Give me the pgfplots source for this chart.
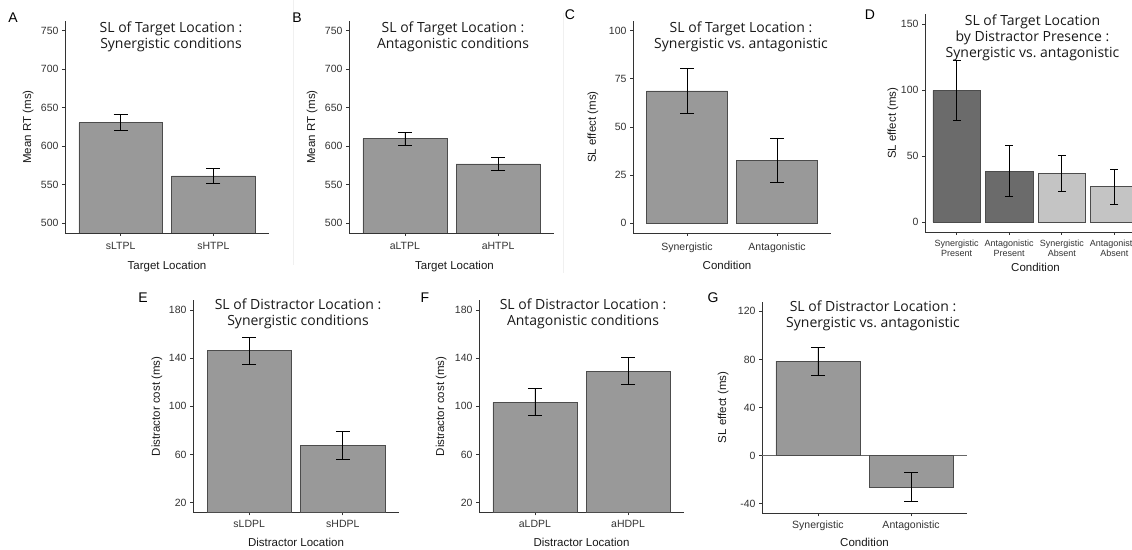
\documentclass[border=0pt]{standalone}
\usepackage{pgfplots}
\pgfplotsset{compat=1.18}
\usepackage{fontspec}
\setmainfont{Liberation Sans}
\newfontfamily\titlefont{Open Sans}
\definecolor{barg}{HTML}{999999}
\definecolor{bardark}{HTML}{6B6B6B}
\definecolor{barlight}{HTML}{C4C4C4}
\definecolor{axc}{HTML}{333333}
\pgfplotsset{
  panel/.style={
    scale only axis, anchor=south west,
    axis x line*=bottom, axis y line*=left,
    axis line style={-, axc, line width=0.8pt},
    tick align=outside, major tick length=3pt,
    tick style={axc, line width=0.7pt},
    ybar, bar width=0.9, bar shift=0pt,
    xmin=0.4, xmax=2.6, xtick={1,2},
    ticklabel style={font=\fontsize{10.5}{12}\selectfont, text=black!80},
    xticklabel style={yshift=-3pt},
    /pgf/number format/assume math mode=true,
    label style={font=\fontsize{11.5}{13}\selectfont, text=black!90},
    title style={font=\titlefont\fontsize{14}{16}\selectfont, align=center,
      at={(axis description cs:0.5,1)}, anchor=north, inner sep=0pt, text=black!90},
    xlabel style={at={(axis description cs:0.5,0)}, anchor=center},
  },
  bars/.style 2 args={fill=#1, draw=black!70, line width=0.6pt,
    error bars/.cd, y dir=both, y explicit,
    error bar style={black, line width=0.8pt},
    error mark options={black, line width=0.8pt, mark size=#2, rotate=90}},
}
\begin{document}
\begin{tikzpicture}
\useasboundingbox (0pt,0pt) rectangle (1132pt,549pt);
\clip (0pt,0pt) rectangle (1132pt,549pt);
\draw[black!6, line width=0.8pt] (563pt,536pt) -- (563pt,276pt);
\draw[black!6, line width=0.8pt] (293pt,549pt) -- (293pt,284pt);

% ---------------- A
\begin{axis}[panel, at={(65pt,316pt)}, width=204pt, height=212pt,
  ymin=487.5, ymax=762.5, ytick={500,550,600,650,700,750},
  xticklabels={sLTPL,sHTPL},
  title={SL of Target Location :\\Synergistic conditions},
  title style={xshift=4pt, yshift=-7pt},
  ylabel={Mean RT (ms)}, ylabel style={at={(axis description cs:-0.181,0.5)}, anchor=center},
  xlabel={Target Location}, xlabel style={yshift=-34pt}]
\addplot[bars={barg}{7pt}] coordinates {(1,630.5) +- (0,10.2) (2,561.5) +- (0,10.3)};
\end{axis}
\node[font=\fontsize{14}{16}\selectfont, anchor=center] at (13pt,531pt) {A};

% ---------------- B
\begin{axis}[panel, at={(349pt,316pt)}, width=205pt, height=212pt,
  ymin=487.5, ymax=762.5, ytick={500,550,600,650,700,750},
  xticklabels={aLTPL,aHTPL},
  title={SL of Target Location :\\Antagonistic conditions},
  title style={xshift=1.5pt, yshift=-7pt},
  ylabel={Mean RT (ms)}, ylabel style={at={(axis description cs:-0.180,0.5)}, anchor=center},
  xlabel={Target Location}, xlabel style={yshift=-34pt, xshift=3pt}]
\addplot[bars={barg}{7pt}] coordinates {(1,609.8) +- (0,8.5) (2,577.2) +- (0,8.4)};
\end{axis}
\node[font=\fontsize{14}{16}\selectfont, anchor=center] at (297pt,531pt) {B};

% ---------------- C
\begin{axis}[panel, at={(633pt,316pt)}, width=198pt, height=212pt,
  ymin=-5, ymax=105, ytick={0,25,50,75,100},
  xticklabels={Synergistic,Antagonistic},
  title={SL of Target Location :\\Synergistic vs.\ antagonistic},
  title style={xshift=9pt, yshift=-7pt},
  ylabel={SL effect (ms)}, ylabel style={at={(axis description cs:-0.202,0.5)}, anchor=center},
  xlabel={Condition}, xlabel style={yshift=-32pt, xshift=-5pt}]
\addplot[bars={barg}{7pt}] coordinates {(1,68.7) +- (0,11.5) (2,32.7) +- (0,11.6)};
\end{axis}
\node[font=\fontsize{14}{16}\selectfont, anchor=center] at (570pt,534pt) {C};

% ---------------- D
\begin{axis}[panel, at={(925pt,317pt)}, width=221pt, height=217.5pt,
  xmin=0.4, xmax=4.6, xtick={1,2,3,4},
  ymin=-7.5, ymax=157.5, ytick={0,50,100,150},
  xticklabels={Synergistic\\Present,Antagonistic\\Present,Synergistic\\Absent,Antagonistic\\Absent},
  xticklabel style={font=\fontsize{9}{10}\selectfont, align=center, yshift=2pt},
  title={SL of Target Location\\by Distractor Presence :\\Synergistic vs.\ antagonistic},
  title style={xshift=-3pt, yshift=-6.3pt},
  ylabel={SL effect (ms)}, ylabel style={at={(axis description cs:-0.145,0.5)}, anchor=center},
  xlabel={Condition}, xlabel style={yshift=-35pt}]
\addplot[bars={bardark}{4pt}]
  coordinates {(1,100.0) +- (0,22.5) (2,38.7) +- (0,19.2)};
\addplot[bars={barlight}{4pt}]
  coordinates {(3,36.9) +- (0,13.6) (4,26.8) +- (0,13.3)};
\end{axis}
\node[font=\fontsize{14}{16}\selectfont, anchor=center] at (870pt,534pt) {D};

% ---------------- E
\begin{axis}[panel, at={(193pt,36.7pt)}, width=206pt, height=212pt,
  ymin=12, ymax=188, ytick={20,60,100,140,180},
  xticklabels={sLDPL,sHDPL}, xticklabel style={yshift=2pt},
  title={SL of Distractor Location :\\Synergistic conditions},
  title style={xshift=2pt, yshift=-4.6pt},
  ylabel={Distractor cost (ms)}, ylabel style={at={(axis description cs:-0.175,0.5)}, anchor=center},
  xlabel={Distractor Location}, xlabel style={yshift=-30pt}]
\addplot[bars={barg}{7pt}] coordinates {(1,146.3) +- (0,11.2) (2,67.6) +- (0,11.4)};
\end{axis}
\node[font=\fontsize{14}{16}\selectfont, anchor=center] at (143pt,251pt) {E};

% ---------------- F
\begin{axis}[panel, at={(479pt,36.7pt)}, width=205pt, height=212pt,
  ymin=12, ymax=188, ytick={20,60,100,140,180},
  xticklabels={aLDPL,aHDPL}, xticklabel style={yshift=2pt},
  title={SL of Distractor Location :\\Antagonistic conditions},
  title style={xshift=1.5pt, yshift=-4.6pt},
  ylabel={Distractor cost (ms)}, ylabel style={at={(axis description cs:-0.185,0.5)}, anchor=center},
  xlabel={Distractor Location}, xlabel style={yshift=-30pt}]
\addplot[bars={barg}{7pt}] coordinates {(1,103.3) +- (0,11.2) (2,129.2) +- (0,11.4)};
\end{axis}
\node[font=\fontsize{14}{16}\selectfont, anchor=center] at (425pt,251pt) {F};

% ---------------- G
\begin{axis}[panel, at={(762pt,35.7pt)}, width=205pt, height=211.6pt,
  ymin=-48, ymax=128, ytick={-40,0,40,80,120},
  xticklabels={Synergistic,Antagonistic}, xticklabel style={yshift=2pt},
  title={SL of Distractor Location :\\Synergistic vs.\ antagonistic},
  title style={xshift=8.5pt, yshift=-4.6pt},
  ylabel={SL effect (ms)}, ylabel style={at={(axis description cs:-0.190,0.5)}, anchor=center},
  xlabel={Condition}, xlabel style={yshift=-29pt}]
\addplot[black!60, line width=0.6pt, no marks, forget plot, sharp plot] coordinates {(0.4,0) (2.6,0)};
\addplot[bars={barg}{7pt}] coordinates {(1,78.5) +- (0,11.5) (2,-26.2) +- (0,12.1)};
\end{axis}
\node[font=\fontsize{14}{16}\selectfont, anchor=center] at (713pt,251pt) {G};
\end{tikzpicture}
\end{document}
